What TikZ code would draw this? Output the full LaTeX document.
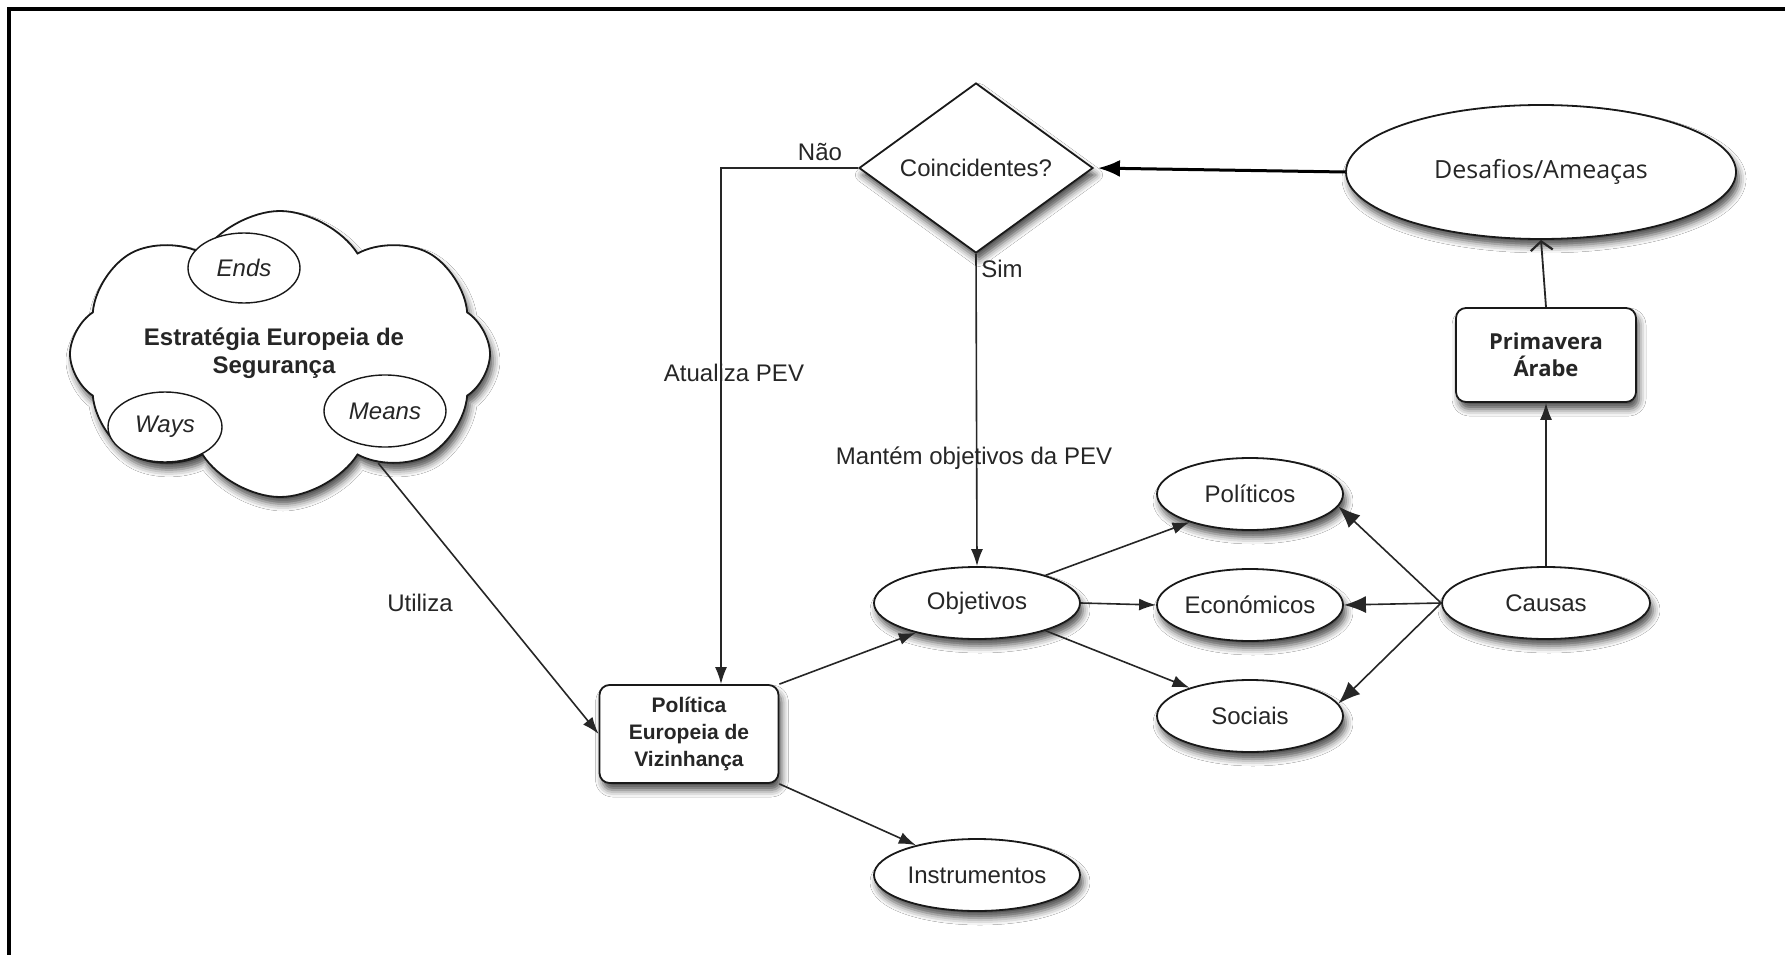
\documentclass[tikz,border=0pt]{standalone}
\usepackage{fontspec}
\setmainfont{Liberation Sans}
\newfontfamily\humfont{Open Sans}
\usetikzlibrary{shapes.geometric,shapes.symbols,shadows.blur,arrows.meta,calc}
\newcommand\fsz{\fontsize{24}{28}\selectfont}
\begin{document}
\begin{tikzpicture}[x=1pt,y=-1pt,
  every node/.style={font=\fsz,text=black!85},
  shad/.style={blur shadow={shadow xshift=3pt,shadow yshift=-7pt,shadow blur radius=7pt,shadow opacity=70}},
  ell/.style={ellipse,draw=black!90,line width=1.8pt,fill=white,inner sep=0pt,shad},
  inell/.style={ellipse,draw=black!90,line width=1.4pt,fill=white,inner sep=0pt,font=\itshape\fsz},
  rbox/.style={rectangle,rounded corners=10pt,draw=black!90,line width=1.8pt,fill=white,align=center,inner sep=0pt,shad},
  arr/.style={draw=black!85,line width=1.6pt,-{Latex[length=17pt,width=12pt]}},
  arrbig/.style={draw=black!85,line width=1.6pt,-{Latex[length=22pt,width=17pt]}},
]
\useasboundingbox (0,0) rectangle (1785,955);
\fill[white] (0,0) rectangle (1785,955);
\draw[line width=4pt,line join=miter] (1785,9) -- (9,9) -- (9,955);

% cloud
\node[cloud,cloud puffs=8,cloud puff arc=115,aspect=1.5,draw=black!90,line width=1.8pt,fill=white,
      minimum width=420pt,minimum height=286pt,inner sep=0pt,shad] (ees) at (280,354) {};
\node[font=\bfseries\fsz,align=center] (eest) at (274,353) {Estratégia Europeia de\\Segurança};
\node[inell,minimum width=112pt,minimum height=70pt] (ends) at (244,268) {Ends};
\node[inell,minimum width=114pt,minimum height=70pt] (ways) at (165,427) {Ways};
\node[inell,minimum width=122pt,minimum height=72pt] (means) at (385,411) {Means};

% main nodes
\node[rbox,minimum width=179pt,minimum height=98pt,font=\bfseries\fontsize{21}{27}\selectfont] (pev) at (689,734) {Política\\Europeia de\\Vizinhança};
\node[diamond,draw=black!90,line width=1.8pt,fill=white,aspect=1.4,minimum width=234pt,minimum height=170pt,inner sep=0pt,shad] (coinc) at (976,168) {Coincidentes?};
\node[ell,minimum width=206pt,minimum height=72pt] (obj) at (977,603) {Objetivos};
\node[ell,minimum width=206pt,minimum height=72pt] (inst) at (977,875) {Instrumentos};
\node[ell,minimum width=186pt,minimum height=72pt] (pol) at (1250,494) {Políticos};
\node[ell,minimum width=186pt,minimum height=72pt] (eco) at (1250,605) {Económicos};
\node[ell,minimum width=186pt,minimum height=72pt] (soc) at (1250,716) {Sociais};
\node[ell,minimum width=208pt,minimum height=72pt] (cau) at (1546,603) {Causas};
\node[rbox,minimum width=180pt,minimum height=94pt,font=\humfont\bfseries\fontsize{22}{27}\selectfont] (prim) at (1546,355) {Primavera\\Árabe};
\node[ell,minimum width=390pt,minimum height=134pt,font=\humfont\fontsize{25}{30}\selectfont] (des) at (1541,172) {Desafios/Ameaças};

% labels
\node (lutil) at (420,603) {Utiliza};
\node (lnao) at (820,152) {Não};
\node (latu) at (734,373) {Atualiza PEV};
\node (lsim) at (1002,269) {Sim};
\node (lman) at (974,458) {Mantém objetivos da PEV};

% connectors
\draw[arr] (ees.-48) -- (pev.west);
\coordinate (nb) at (721,168);
\draw[arr] (coinc.west) -- (nb) -- (nb |- pev.north);
\draw[arr] (coinc.south) -- (obj.north);
\draw[arr] (pev.north east) -- (obj.206);
\draw[arr] (pev.south east) -- (inst.154);
\draw[arr] (obj.22) -- (pol.205);
\draw[arr] (obj.east) -- (eco.west);
\draw[arr] (obj.-22) -- (soc.155);
\draw[arrbig] (cau.west) -- (pol.-8);
\draw[arrbig] (cau.west) -- (eco.east);
\draw[arrbig] (cau.west) -- (soc.8);
\draw[arr] (cau.north) -- (prim.south);
\draw[draw=black!85,line width=1.8pt,-{Straight Barb[length=9pt,width=22pt,line width=2.2pt]}] (prim.north) -- (des.south);
\draw[draw=black,line width=3pt,shorten >=4pt,-{Latex[length=22pt,width=17pt]}] (des.west) -- (coinc.east);
\end{tikzpicture}
\end{document}
